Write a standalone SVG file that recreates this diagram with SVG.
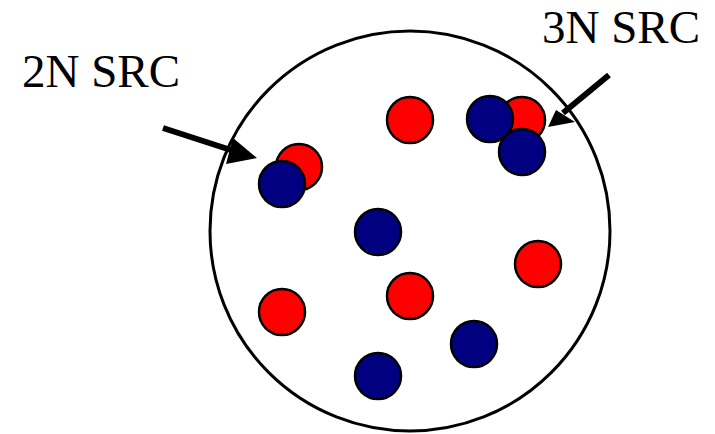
<svg xmlns="http://www.w3.org/2000/svg" width="715" height="434" viewBox="0 0 715 434">
<style>
.red{fill:#ff0000;stroke:#000;stroke-width:2.5}
.blue{fill:#000080;stroke:#000;stroke-width:2.5}
.arr{stroke:#000;stroke-width:6;fill:none}
</style>
<rect width="715" height="434" fill="#fff"/>
<g id="boundary"><circle cx="410" cy="231" r="200" fill="none" stroke="#000" stroke-width="3"/></g>
<g id="r1"><circle class="red" cx="410" cy="120" r="23"/></g>
<g id="r2"><circle class="red" cx="522" cy="120" r="23"/></g>
<g id="b1"><circle class="blue" cx="490" cy="119" r="23"/></g>
<g id="b2"><circle class="blue" cx="522" cy="152" r="23"/></g>
<g id="r3"><circle class="red" cx="299" cy="167" r="23"/></g>
<g id="b3"><circle class="blue" cx="282" cy="184" r="23"/></g>
<g id="b4"><circle class="blue" cx="378" cy="232" r="23"/></g>
<g id="r4"><circle class="red" cx="538" cy="264" r="23"/></g>
<g id="r5"><circle class="red" cx="282" cy="312" r="23"/></g>
<g id="r6"><circle class="red" cx="410" cy="296" r="23"/></g>
<g id="b5"><circle class="blue" cx="474" cy="344" r="23"/></g>
<g id="b6"><circle class="blue" cx="378" cy="376" r="23"/></g>
<g id="label2N"><text x="22" y="87" font-family="Liberation Serif, DejaVu Serif, serif" font-size="47" fill="#000">2N SRC</text></g>
<g id="label3N"><text x="542" y="43" font-family="Liberation Serif, DejaVu Serif, serif" font-size="47" fill="#000">3N SRC</text></g>
<g id="connectors">
<line class="arr" x1="163" y1="128" x2="237" y2="152"/>
<polygon points="257,158 233,138 226,164" fill="#000"/>
<line class="arr" x1="609" y1="75" x2="563" y2="113"/>
<polygon points="548,127 556,110 575,122" fill="#000"/>
</g>
</svg>
